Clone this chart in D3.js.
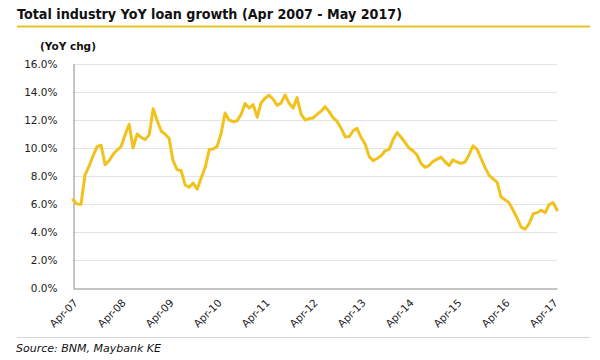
<!DOCTYPE html>
<html>
<head>
<meta charset="utf-8">
<script src="https://cdn.jsdelivr.net/npm/d3@7/dist/d3.min.js"></script>
<style>
  html, body { margin: 0; padding: 0; background: #ffffff; }
  svg { display: block; }
</style>
</head>
<body>
<svg id="chart" width="600" height="360"></svg>
<script>
// ---- data ----
const titleText = "Total industry YoY loan growth (Apr 2007 - May 2017)";
const unitLabel = "(YoY chg)";
const sourceText = "Source: BNM, Maybank KE";
const startMonth = new Date(2007, 3, 1); // Apr 2007
const growth = [
  6.3, 6.0, 5.98, 8.07, 8.7, 9.45, 10.1, 10.2, 8.8, 9.1, 9.55, 9.85,
  10.1, 10.93, 11.7, 10.0, 11.0, 10.75, 10.6, 10.95, 12.8, 11.95, 11.2, 11.0,
  10.7, 9.1, 8.45, 8.4, 7.36, 7.2, 7.5, 7.05, 7.85, 8.62, 9.9, 9.93,
  10.1, 11.0, 12.5, 12.0, 11.88, 11.95, 12.4, 13.19, 12.85, 13.1, 12.2, 13.2,
  13.55, 13.77, 13.5, 13.05, 13.2, 13.79, 13.2, 12.85, 13.6, 12.4, 12.0, 12.1,
  12.15, 12.4, 12.63, 12.95, 12.6, 12.15, 11.9, 11.4, 10.8, 10.8, 11.25, 11.4,
  10.75, 10.3, 9.4, 9.1, 9.25, 9.45, 9.8, 9.9, 10.6, 11.1, 10.75, 10.4,
  10.0, 9.8, 9.5, 8.9, 8.62, 8.75, 9.05, 9.2, 9.35, 9.0, 8.75, 9.15,
  9.0, 8.9, 9.0, 9.5, 10.15, 9.9, 9.25, 8.6, 8.05, 7.8, 7.55, 6.5,
  6.3, 6.1, 5.55, 5.0, 4.35, 4.2, 4.6, 5.3, 5.38, 5.55, 5.38, 5.95,
  6.1, 5.57
];
const yTicks = [0, 2, 4, 6, 8, 10, 12, 14, 16];
const xTickLabels = ["Apr-07","Apr-08","Apr-09","Apr-10","Apr-11","Apr-12","Apr-13","Apr-14","Apr-15","Apr-16","Apr-17"];

// ---- build ----
const months = growth.map((v, i) => d3.timeMonth.offset(startMonth, i));
const series = growth.map((v, i) => ({ date: months[i], value: v }));
const xTickDates = xTickLabels.map((l, i) => d3.timeMonth.offset(startMonth, i * 12));

const svg = d3.select("#chart");
const font = "'DejaVu Sans', Verdana, sans-serif";
const m = { left: 73, right: 43, top: 64, bottom: 72 };
const W = 600, H = 360;

const x = d3.scaleTime()
  .domain([months[0], months[months.length - 1]])
  .range([m.left, W - m.right]);
const y = d3.scaleLinear()
  .domain([0, 16])
  .range([H - m.bottom, m.top]);

// title
svg.append("text")
  .attr("x", 17).attr("y", 19)
  .attr("font-family", font).attr("font-weight", "bold")
  .attr("font-size", 13.5).attr("fill", "#111")
  .attr("textLength", 385).attr("lengthAdjust", "spacingAndGlyphs")
  .text(titleText);
svg.append("line")
  .attr("x1", 17).attr("x2", 590).attr("y1", 26.5).attr("y2", 26.5)
  .attr("stroke", "#E6C320").attr("stroke-width", 2);

// unit label
svg.append("text")
  .attr("x", 40).attr("y", 50)
  .attr("font-family", font).attr("font-weight", "bold")
  .attr("font-size", 10.5).attr("fill", "#111")
  .text(unitLabel);

// grid
svg.append("g")
  .selectAll("line")
  .data(yTicks.filter(d => d > 0))
  .join("line")
  .attr("x1", m.left).attr("x2", W - m.right)
  .attr("y1", d => Math.round(y(d)) + 0.5).attr("y2", d => Math.round(y(d)) + 0.5)
  .attr("stroke", "#e3e3e3").attr("stroke-width", 1);

// y axis
const yAxis = d3.axisLeft(y).tickValues(yTicks)
  .tickFormat(d => d3.format(".1f")(d) + "%").tickSize(0).tickPadding(16);
const gy = svg.append("g").attr("transform", `translate(${m.left + 0.5},0)`).call(yAxis);
gy.select(".domain").attr("stroke", "#8a8a8a");
gy.selectAll("text").attr("font-family", font).attr("font-size", 10.5).attr("fill", "#222");

// x axis
const xAxis = d3.axisBottom(x).tickValues(xTickDates)
  .tickFormat((d, i) => xTickLabels[i]).tickSize(0).tickPadding(0);
const gx = svg.append("g").attr("transform", `translate(0,${H - m.bottom + 0.5})`).call(xAxis);
gx.select(".domain").attr("stroke", "#8a8a8a");
gx.selectAll("text")
  .attr("font-family", font).attr("font-size", 10.5).attr("fill", "#222")
  .attr("text-anchor", "end")
  .attr("dy", 0)
  .attr("transform", "translate(5,15) rotate(-45)");

// line
const line = d3.line().x(d => x(d.date)).y(d => y(d.value)).curve(d3.curveLinear);
svg.append("path")
  .datum(series)
  .attr("d", line)
  .attr("fill", "none")
  .attr("stroke", "#F2C21C")
  .attr("stroke-width", 3)
  .attr("stroke-linejoin", "round")
  .attr("stroke-linecap", "round");

// bottom separator & source
svg.append("line")
  .attr("x1", 17).attr("x2", 590).attr("y1", 337.5).attr("y2", 337.5)
  .attr("stroke", "#d6d6d6").attr("stroke-width", 1);
svg.append("text")
  .attr("x", 16).attr("y", 352)
  .attr("font-family", font).attr("font-style", "italic")
  .attr("font-size", 11).attr("fill", "#111")
  .text(sourceText);
</script>
</body>
</html>
